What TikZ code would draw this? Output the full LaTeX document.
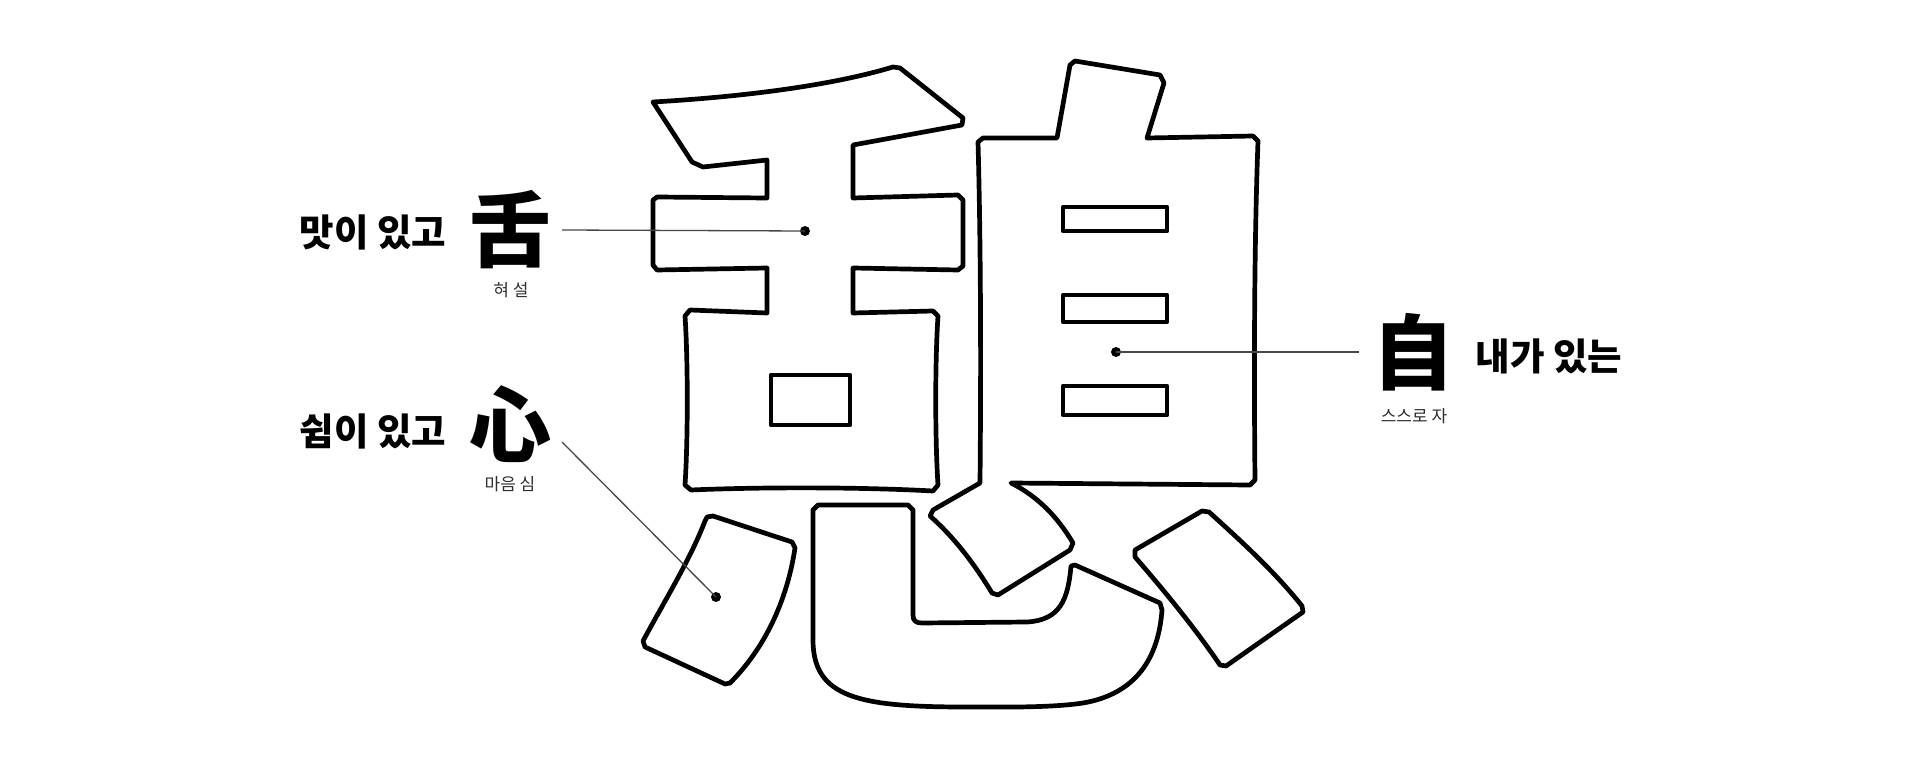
\documentclass[tikz,border=0pt]{standalone}
\usepackage{fontspec}
\newfontfamily\krfont{Noto Sans CJK KR}
\tikzset{
  glyph/.style={draw=black, line width=4.7pt, line join=round, fill=white},
  leader/.style={draw=black!72, line width=1.3pt},
  dotmark/.style={circle, fill=black, inner sep=0pt, minimum size=10pt},
  bigchar/.style={font=\krfont\bfseries\fontsize{82}{84}\selectfont, inner sep=0pt},
  phrase/.style={font=\krfont\bfseries\fontsize{37.5}{40}\selectfont, inner sep=0pt},
  reading/.style={font=\krfont\fontsize{17}{19}\selectfont, text=black!82, inner sep=0pt}
}
\begin{document}
\begin{tikzpicture}[x=1pt,y=-1pt]
\useasboundingbox[fill=white] (0,0) rectangle (1920,767);

% --- 舌 ---
\draw[glyph] (653,102) .. controls (740,97) and (830,86) .. (893,67)
  -- (900,68) -- (963,118) -- (962,125) -- (853,145) -- (853,198)
  -- (958,195) -- (963,200) -- (963,266) -- (958,270) -- (853,268) -- (853,313)
  -- (933,311) -- (938,316) .. controls (935,360) and (935,440) .. (938,485)
  -- (933,491) .. controls (860,487) and (760,487) .. (691,490)
  -- (685,485) .. controls (688,440) and (688,360) .. (685,316)
  -- (690,310) -- (767,313) -- (767,268) -- (657,270) -- (653,265) -- (653,200)
  -- (657,197) -- (767,198) -- (767,160) -- (703,167) -- (692,162) -- cycle;
\draw[glyph] (771,375) rectangle (850,425);

% --- 自 with middle dot of 心 ---
\draw[glyph] (983,138) -- (1057,138) -- (1070,65) -- (1075,61) -- (1160,75)
  -- (1164,83) -- (1147,138) -- (1253,136) -- (1258,141)
  .. controls (1254,250) and (1254,380) .. (1255,480)
  -- (1250,485) -- (1011,483)
  .. controls (1037,496) and (1057,516) .. (1073,543)
  -- (1070,550) -- (998,595) -- (992,593)
  .. controls (975,565) and (955,538) .. (930,516)
  -- (933,510) -- (980,483)
  .. controls (981,380) and (981,250) .. (978,142) -- cycle;
\draw[glyph] (1063,207) rectangle (1167,231);
\draw[glyph] (1063,295) rectangle (1167,322);
\draw[glyph] (1063,386) rectangle (1167,415);

% --- 心 left dot ---
\draw[glyph] (707,517) -- (713,516) -- (792,542) -- (795,548)
  .. controls (788,595) and (768,645) .. (730,683)
  -- (725,684) -- (645,647) -- (643,641)
  .. controls (665,600) and (690,560) .. (705,521) -- cycle;

% --- 心 hook ---
\draw[glyph] (818,505) -- (908,505) -- (913,510) -- (913,615)
  .. controls (913,621) and (916,623) .. (922,623) -- (1027,622)
  .. controls (1060,620) and (1068,600) .. (1071,566)
  -- (1075,565) -- (1160,603) -- (1162,610)
  .. controls (1158,665) and (1130,695) .. (1083,703)
  .. controls (1050,708) and (1000,707) .. (966,707)
  .. controls (860,707) and (813,698) .. (813,640)
  -- (813,510) -- cycle;

% --- 心 right dot ---
\draw[glyph] (1202,511) -- (1209,512)
  .. controls (1240,540) and (1275,572) .. (1302,606)
  -- (1303,612) -- (1226,666) -- (1220,665)
  .. controls (1195,628) and (1162,588) .. (1135,557)
  -- (1135,550) -- cycle;

% --- labels ---
\node[phrase] (p1) at (373,232) {맛이 있고};
\node[bigchar] (c1) at (510,230) {舌};
\node[reading] (r1) at (511,290) {혀 설};

\node[phrase] (p2) at (373,431) {쉼이 있고};
\node[bigchar] (c2) at (510,424) {心};
\node[reading] (r2) at (510,484) {마음 심};

\node[bigchar] (c3) at (1413,352) {自};
\node[phrase] (p3) at (1549,356) {내가 있는};
\node[reading] (r3) at (1414,416) {스스로 자};

% --- leaders ---
\node[dotmark] (d1) at (805,231) {};
\coordinate (e1) at (562,230);
\draw[leader] (e1) -- (d1.center);

\node[dotmark] (d2) at (716,597) {};
\coordinate (e2) at (562,442);
\draw[leader] (e2) -- (d2.center);

\node[dotmark] (d3) at (1116,352) {};
\coordinate (e3) at (1359,352);
\draw[leader] (d3.center) -- (e3);
\end{tikzpicture}
\end{document}
